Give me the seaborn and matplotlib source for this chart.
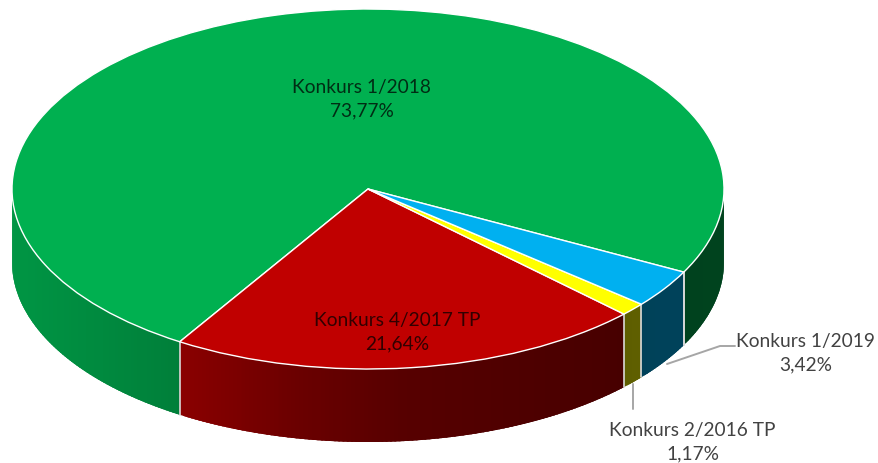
import numpy as np
import matplotlib
matplotlib.use("Agg")
import matplotlib.pyplot as plt
from matplotlib.lines import Line2D
import seaborn as sns

# Slices, counter-clockwise from the start angle
names = ["Konkurs 1/2018", "Konkurs 4/2017 TP", "Konkurs 2/2016 TP", "Konkurs 1/2019"]
shares = [73.77, 21.64, 1.17, 3.42]
colors = ["#00b050", "#c00000", "#ffff00", "#00b0f0"]

W, H = 879, 464
CX, CY = 368, 190   # pie centre in pixels
RX, RY = 356, 180   # ellipse radii in pixels
DEPTH = 73 / RY
START = 332.5

sns.set_theme(style="white")
plt.rcParams["font.family"] = ["Lato", "DejaVu Sans"]

fig = plt.figure(figsize=(W / 100, H / 100), dpi=100)
ax = fig.add_axes([0, 0, 1, 1])

# top face
wedges, _ = ax.pie(shares, colors=colors, startangle=START, counterclock=True,
                   wedgeprops=dict(edgecolor="white", linewidth=1.0, zorder=5))
ax.set_aspect("auto")
ax.set_xlim(-CX / RX, (W - CX) / RX)
ax.set_ylim(-(H - CY) / RY, CY / RY)
ax.axis("off")


def shade(cos_a):
    # the light falls from the left, the wall gets darker to the right
    return np.interp(cos_a, [-1.0, -0.53, -0.19, 0.1, 0.72, 1.0],
                     [0.85, 0.72, 0.55, 0.45, 0.37, 0.38])


# side wall, thin strips that overlap the next one so no seams show
edges = START + np.cumsum([0] + shares) * 3.6
for i, color in enumerate(colors):
    rgb = np.array(matplotlib.colors.to_rgb(color))
    for turn in (0, 360):
        a0 = max(edges[i] - turn, 180)
        a1 = min(edges[i + 1] - turn, 360)
        if a1 <= a0:
            continue
        steps = np.linspace(a0, a1, int((a1 - a0) / 0.7) + 2)
        for s0, s1 in zip(steps[:-1], steps[1:]):
            t = np.radians([s0, min(s1 + 1.0, a1)])
            xs = np.cos(t)
            ys = np.sin(t)
            ax.fill([xs[0], xs[1], xs[1], xs[0]],
                    [ys[0], ys[1], ys[1] - DEPTH, ys[0] - DEPTH],
                    facecolor=rgb * shade(np.cos(np.radians(s0))), edgecolor="none", zorder=2)

# light separators on the wall
for a in edges:
    a = a % 360
    if 180 <= a <= 360:
        x, y = np.cos(np.radians(a)), np.sin(np.radians(a))
        ax.plot([x, x], [y, y - DEPTH], color="#d9d9d9", lw=1.2, zorder=3)

# data labels
label_pos = [(361.5, 99), (397, 332), (692.5, 442), (806, 353.5)]
for name, share, (px, py) in zip(names, shares, label_pos):
    text = f"{name}\n{share:.2f}%".replace(".", ",")
    fig.text(px / W, 1 - py / H, text, ha="center", va="center", fontsize=13.8,
             color="black", alpha=0.74, linespacing=1.45, zorder=10)

# leader lines
leaders = [[(633, 385), (633, 410)], [(667, 365), (720, 347), (735, 347)]]
for pts in leaders:
    xs, ys = zip(*pts)
    fig.add_artist(Line2D(np.array(xs) / W, 1 - np.array(ys) / H, color="#a6a6a6", lw=1.4))

fig.savefig("out.png", dpi=100)
